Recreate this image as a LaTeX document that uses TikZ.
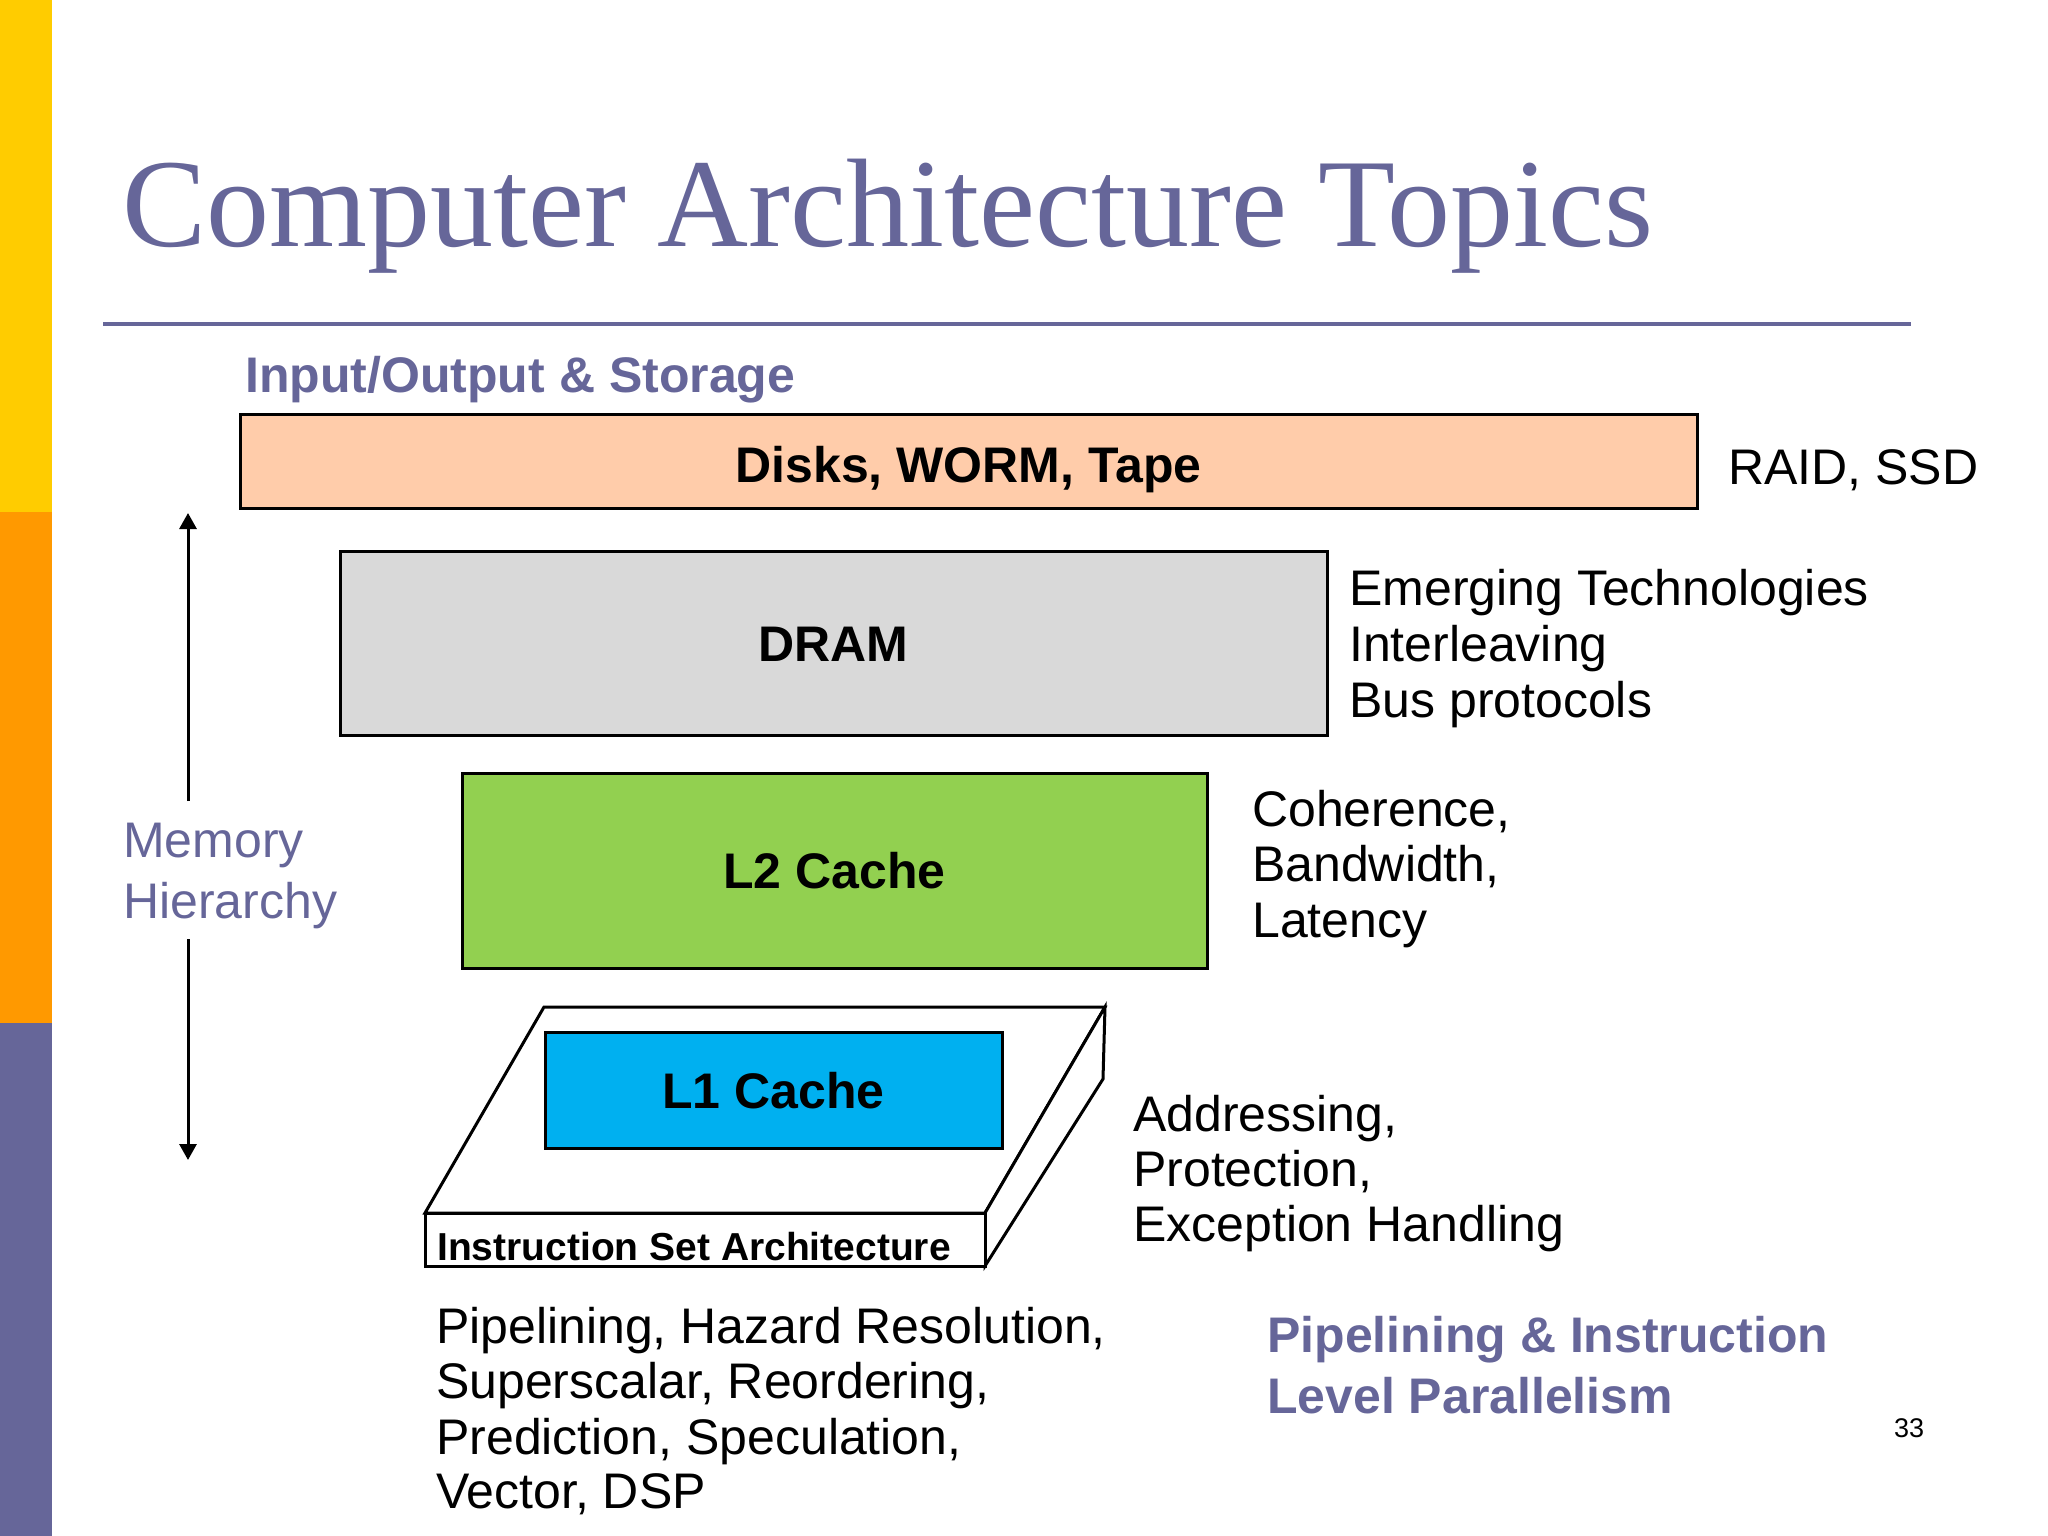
\documentclass[tikz,border=0pt]{standalone}
\usepackage{fontspec}
\usetikzlibrary{arrows.meta}
\newfontfamily\arialf{Liberation Sans}
\newfontfamily\seriff{Liberation Serif}
\definecolor{mypurple}{HTML}{666699}
\definecolor{myyellow}{HTML}{FFCC00}
\definecolor{myorange}{HTML}{FF9900}
\definecolor{mypeach}{HTML}{FFCCAA}
\definecolor{mygray}{HTML}{D9D9D9}
\definecolor{mygreen}{HTML}{92D050}
\definecolor{myblue}{HTML}{00B0F0}
\tikzset{
  txt/.style={anchor=base west, inner sep=0pt, font=\arialf\fontsize{50}{55}\selectfont},
  ptxt/.style={txt, text=mypurple},
  pbold/.style={anchor=base west, inner sep=0pt, text=mypurple, font=\arialf\bfseries\fontsize{50}{55}\selectfont},
  membox/.style={draw=black, line width=3pt, inner sep=0pt, text height=36pt, text depth=0pt,
    font=\arialf\bfseries\fontsize{50}{55}\selectfont},
  slab/.style={draw=black, line width=3pt, fill=white, line join=miter},
  hier/.style={line width=3pt, -{Triangle[length=16pt,width=17pt]}},
}
\begin{document}
\begin{tikzpicture}[x=1pt,y=-1pt]
\useasboundingbox (0,0) rectangle (2048,1536);
% left bar
\fill[myyellow] (0,0) rectangle (52,512);
\fill[myorange] (0,512) rectangle (52,1023);
\fill[mypurple] (0,1023) rectangle (52,1536);
% title
\node[anchor=base west, inner sep=0pt, text=mypurple, font=\seriff\fontsize{126}{130}\selectfont] (title) at (122,246) {Computer Architecture Topics};
\draw[mypurple, line width=4pt] (103,324) coordinate (rl) -- (1911,324) coordinate (rr);
% I/O
\node[pbold] (io) at (245,392) {Input/Output \& Storage};
\node[membox, fill=mypeach, minimum width=1457pt, minimum height=94pt] (disks) at (968.5,461) {\raisebox{-3pt}{Disks, WORM, Tape}};
\node[txt] (raid) at (1728,484) {RAID, SSD};
% DRAM
\node[membox, fill=mygray, minimum width=987pt, minimum height=184pt] (dram) at (833.5,643) {DRAM};
\node[txt] (em1) at (1349,605) {Emerging Technologies};
\node[txt] (em2) at (1349,661) {Interleaving};
\node[txt] (em3) at (1349,717) {Bus protocols};
% L2
\node[membox, fill=mygreen, minimum width=745pt, minimum height=195pt] (ltwo) at (834.5,870.5) {L2 Cache};
\node[txt] (co1) at (1252,826) {Coherence,};
\node[txt] (co2) at (1252,881) {Bandwidth,};
\node[txt] (co3) at (1252,937) {Latency};
% ISA slab
\draw[slab] (544,1007) -- (1105,1007) -- (985,1213) -- (425,1213) -- cycle;
\draw[slab] (1105,1007) -- (1103,1079) -- (985,1266) -- (985,1213) -- cycle;
\node[draw=black, line width=3pt, fill=white, inner sep=0pt, minimum width=560pt, minimum height=53pt] (isa) at (705,1239.5) {};
\node[anchor=base west, inner sep=0pt, font=\arialf\bfseries\fontsize{39}{44}\selectfont] (isatxt) at (437,1260) {Instruction Set Architecture};
\node[membox, fill=myblue, minimum width=457pt, minimum height=116pt] (lone) at (773.5,1090) {L1 Cache};
\node[txt] (ad1) at (1133,1131) {Addressing,};
\node[txt] (ad2) at (1133,1186) {Protection,};
\node[txt] (ad3) at (1133,1241) {Exception Handling};
% bottom
\node[txt] (pp1) at (436,1343) {Pipelining, Hazard Resolution,};
\node[txt] (pp2) at (436,1398) {Superscalar, Reordering,};
\node[txt] (pp3) at (436,1454) {Prediction, Speculation,};
\node[txt] (pp4) at (436,1508) {Vector, DSP};
\node[pbold] (ilp1) at (1267,1352) {Pipelining \& Instruction};
\node[pbold] (ilp2) at (1267,1413) {Level Parallelism};
% memory hierarchy
\node[ptxt] (mem1) at (123,857) {Memory};
\node[ptxt] (mem2) at (123,918) {Hierarchy};
\coordinate (mtop) at (188,513);
\coordinate (mbot) at (188,1160);
\coordinate (mgap1) at (188,801);
\coordinate (mgap2) at (188,939);
\draw[hier] (mgap1) -- (mtop);
\draw[hier] (mgap2) -- (mbot);
% page number
\node[anchor=base west, inner sep=0pt, font=\arialf\fontsize{27}{30}\selectfont] (page) at (1894,1437) {33};
\end{tikzpicture}
\end{document}
